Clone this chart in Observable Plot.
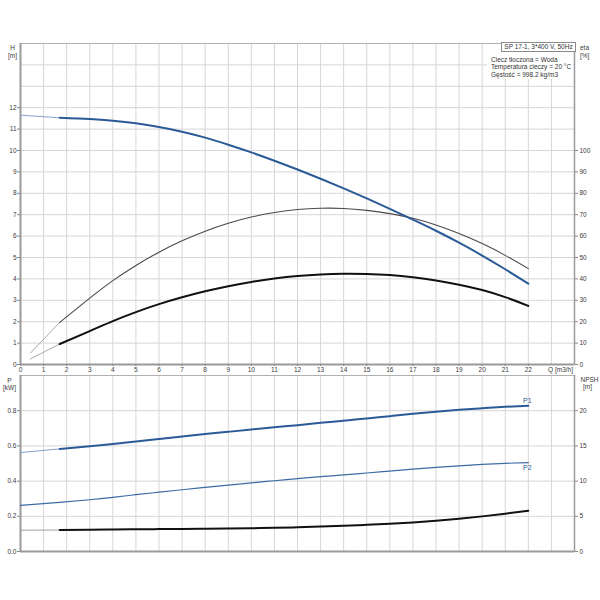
<!DOCTYPE html>
<html><head><meta charset="utf-8">
<script src="https://cdn.jsdelivr.net/npm/d3@7"></script>
<script src="https://cdn.jsdelivr.net/npm/@observablehq/plot@0.6"></script>
<style>
body{margin:0;background:#fff;}
#wrap{position:relative;width:600px;height:600px;overflow:hidden;font-family:"Liberation Sans",Arial,sans-serif;background:#fff;}
#wrap svg{display:block;}
.pump{position:absolute;left:501px;top:42px;width:75px;height:10px;border:1px solid #8a8a8a;background:#fff;font-size:6.5px;line-height:8px;text-align:center;color:#333;box-sizing:border-box;white-space:nowrap;}
.liquid{position:absolute;left:487px;top:52px;width:86px;height:27px;background:#fff;font-size:6.5px;line-height:7.7px;color:#333;padding-left:4px;padding-top:3.5px;box-sizing:border-box;white-space:nowrap;}
</style></head><body>
<div id="wrap"></div>
<script>
// ---- data ----
const dutyStart = 1.7;               // start of the operating range (thick part)
const flowQ   = [0, 1.7, 3, 4, 5, 6, 7, 8, 9, 10, 11, 12, 13, 14, 15, 16, 17, 18, 19, 20, 21, 22];
const headH   = [11.65, 11.53, 11.47, 11.39, 11.27, 11.10, 10.88, 10.60, 10.27, 9.91, 9.52, 9.11, 8.68, 8.23, 7.76, 7.27, 6.77, 6.25, 5.69, 5.09, 4.45, 3.78];
const powerP1 = [0.562, 0.583, 0.598, 0.611, 0.625, 0.639, 0.653, 0.667, 0.680, 0.693, 0.706, 0.718, 0.731, 0.743, 0.756, 0.769, 0.782, 0.794, 0.805, 0.814, 0.822, 0.828];
const powerP2 = [0.262, 0.279, 0.294, 0.308, 0.323, 0.337, 0.351, 0.364, 0.377, 0.390, 0.402, 0.414, 0.425, 0.435, 0.446, 0.457, 0.468, 0.478, 0.487, 0.495, 0.501, 0.505];
const npshM   = [3.03, 3.05, 3.09, 3.12, 3.15, 3.18, 3.21, 3.24, 3.27, 3.31, 3.36, 3.44, 3.54, 3.66, 3.79, 3.94, 4.13, 4.37, 4.66, 4.99, 5.37, 5.80];

const flowEta  = [0.43, 1.7, 3, 4, 5, 6, 7, 8, 9, 10, 11, 12, 13, 14, 15, 16, 17, 18, 19, 20, 21, 22];
const etaPump  = [5.3, 19.7, 31.0, 39.2, 46.3, 52.5, 57.8, 62.3, 66.0, 68.9, 71.0, 72.4, 73.0, 72.9, 72.0, 70.5, 68.3, 65.2, 61.2, 56.5, 51.0, 44.8];
const etaTotal = [2.6, 9.6, 15.6, 20.3, 24.5, 28.2, 31.4, 34.2, 36.6, 38.6, 40.2, 41.4, 42.1, 42.4, 42.3, 41.8, 40.8, 39.3, 37.3, 34.8, 31.5, 27.4];

const qTickLabels = d3.range(0, 23);
const hTicks = d3.range(0, 13);
const etaTicks = d3.range(0, 101, 10);
const pTicks = [0, 0.2, 0.4, 0.6, 0.8];
const npshTicks = [0, 5, 10, 15, 20];
const qDomain = [0, 24], hDomain = [0, 15], pDomain = [0, 1.0];
const etaPerH = 10, npshPerP = 25;

const pumpTitle = "SP 17-1, 3*400 V, 50Hz";
const liquidLines = ["Ciecz tłoczona = Woda", "Temperatura cieczy = 20 °C", "Gęstość = 998.2 kg/m3"];

// ---- tables ----
const rows = flowQ.map((q, i) => ({q, h: headH[i], p1: powerP1[i], p2: powerP2[i], npsh: npshM[i] / npshPerP}));
const etaRows = flowEta.map((q, i) => ({q, pump: etaPump[i] / etaPerH, total: etaTotal[i] / etaPerH}));
const ext = rows.filter(d => d.q <= dutyStart), duty = rows.filter(d => d.q >= dutyStart);
const etaExt = etaRows.filter(d => d.q <= dutyStart), etaDuty = etaRows.filter(d => d.q >= dutyStart);

const BLUE = "#2b5b97", BLUE_L = "#86a3c7", GRID = "#d6d6d6", AX = "#9a9a9a", TXT = "#3a3a3a";
const font = {fontSize: "6.5px", fontFamily: "'Liberation Sans', Arial, sans-serif", background: "#fff", overflow: "visible"};
const C = "natural";

const topChart = Plot.plot({
  width: 600, height: 374, marginLeft: 20, marginRight: 26, marginTop: 43, marginBottom: 10,
  style: font,
  x: {domain: qDomain, label: null},
  y: {domain: hDomain, label: null},
  marks: [
    Plot.gridX(d3.range(1, 24), {stroke: GRID, strokeOpacity: 1}),
    Plot.gridY(d3.range(1, 15), {stroke: GRID, strokeOpacity: 1}),
    Plot.frame({stroke: "#b0b0b0"}),
    Plot.ruleX([qDomain[0]], {stroke: AX, strokeWidth: 2}),
    Plot.ruleX([qDomain[1]], {stroke: AX, strokeWidth: 1.5}),
    Plot.ruleY([hDomain[0]], {stroke: AX, strokeWidth: 2}),
    // efficiency curves
    Plot.line(etaExt, {x: "q", y: "pump", stroke: "#a8a8a8", strokeWidth: 1}),
    Plot.line(etaDuty, {x: "q", y: "pump", stroke: "#4a4a4a", strokeWidth: 1.1, curve: C}),
    Plot.line(etaExt, {x: "q", y: "total", stroke: "#a8a8a8", strokeWidth: 1}),
    Plot.line(etaDuty, {x: "q", y: "total", stroke: "#111", strokeWidth: 2, curve: C}),
    // head
    Plot.line(ext, {x: "q", y: "h", stroke: BLUE_L, strokeWidth: 1}),
    Plot.line(duty, {x: "q", y: "h", stroke: BLUE, strokeWidth: 2, curve: C}),
    Plot.axisX({ticks: qTickLabels, tickSize: 2, tickPadding: 1, stroke: "#888", fill: TXT, label: null}),
    Plot.axisY({anchor: "left", ticks: hTicks, tickSize: 3, tickPadding: 1, stroke: "#888", fill: TXT, label: null}),
    Plot.axisY({anchor: "right", ticks: etaTicks.map(v => v / etaPerH), tickFormat: d => Math.round(d * etaPerH), tickSize: 3, tickPadding: 2, stroke: "#888", fill: TXT, label: null}),
    Plot.text(["Q [m3/h]"], {frameAnchor: "bottom-right", textAnchor: "end", lineAnchor: "top", dx: -1.5, dy: 3, fill: TXT}),
    Plot.text(["H\n[m]"], {frameAnchor: "top-left", textAnchor: "middle", lineAnchor: "top", dx: -8, dy: 1, fill: TXT, lineHeight: 1.2}),
    Plot.text(["eta\n[%]"], {frameAnchor: "top-right", textAnchor: "start", lineAnchor: "top", dx: 5.5, dy: 1, fill: TXT, lineHeight: 1.2})
  ]
});

const p1End = duty[duty.length - 1];
const bottomChart = Plot.plot({
  width: 600, height: 226, marginLeft: 20, marginRight: 26, marginTop: 1, marginBottom: 49,
  style: font,
  x: {domain: qDomain, label: null, axis: null},
  y: {domain: pDomain, label: null},
  marks: [
    Plot.gridX(d3.range(1, 24), {stroke: GRID, strokeOpacity: 1}),
    Plot.gridY(pTicks.slice(1), {stroke: GRID, strokeOpacity: 1}),
    Plot.frame({stroke: "#b0b0b0"}),
    Plot.ruleX([qDomain[0]], {stroke: AX, strokeWidth: 2}),
    Plot.ruleX([qDomain[1]], {stroke: AX, strokeWidth: 1.5}),
    Plot.ruleY([pDomain[0]], {stroke: AX, strokeWidth: 2}),
    Plot.line(rows, {x: "q", y: "p2", stroke: "#3d6ba6", strokeWidth: 1.2, curve: C}),
    Plot.line(ext, {x: "q", y: "p1", stroke: BLUE_L, strokeWidth: 1}),
    Plot.line(duty, {x: "q", y: "p1", stroke: BLUE, strokeWidth: 2, curve: C}),
    Plot.line(ext, {x: "q", y: "npsh", stroke: "#a0a0a0", strokeWidth: 1}),
    Plot.line(duty, {x: "q", y: "npsh", stroke: "#111", strokeWidth: 2, curve: C}),
    Plot.text([p1End], {x: "q", y: "p1", text: () => "P1", dx: -1, dy: -5, fill: BLUE, fontSize: 7}),
    Plot.text([p1End], {x: "q", y: "p2", text: () => "P2", dx: -1, dy: 5, fill: BLUE, fontSize: 7}),
    Plot.axisY({anchor: "left", ticks: pTicks, tickFormat: d3.format(".1f"), tickSize: 3, tickPadding: 1, stroke: "#888", fill: TXT, label: null}),
    Plot.axisY({anchor: "right", ticks: npshTicks.map(v => v / npshPerP), tickFormat: d => Math.round(d * npshPerP), tickSize: 3, tickPadding: 2, stroke: "#888", fill: TXT, label: null}),
    Plot.text(["P\n[kW]"], {frameAnchor: "top-left", textAnchor: "middle", lineAnchor: "top", dx: -11, dy: 1.5, fill: TXT, lineHeight: 1.2}),
    Plot.text(["NPSH"], {frameAnchor: "top-right", textAnchor: "start", lineAnchor: "top", dx: 6, dy: 1.5, fill: TXT}),
    Plot.text(["[m]"], {frameAnchor: "top-right", textAnchor: "middle", lineAnchor: "top", dx: 13, dy: 9.3, fill: TXT})
  ]
});

const wrap = document.getElementById("wrap");
wrap.appendChild(topChart);
wrap.appendChild(bottomChart);
const t = document.createElement("div"); t.className = "pump"; t.textContent = pumpTitle; wrap.appendChild(t);
const l = document.createElement("div"); l.className = "liquid"; l.innerHTML = liquidLines.join("<br>"); wrap.appendChild(l);
</script>
</body></html>
